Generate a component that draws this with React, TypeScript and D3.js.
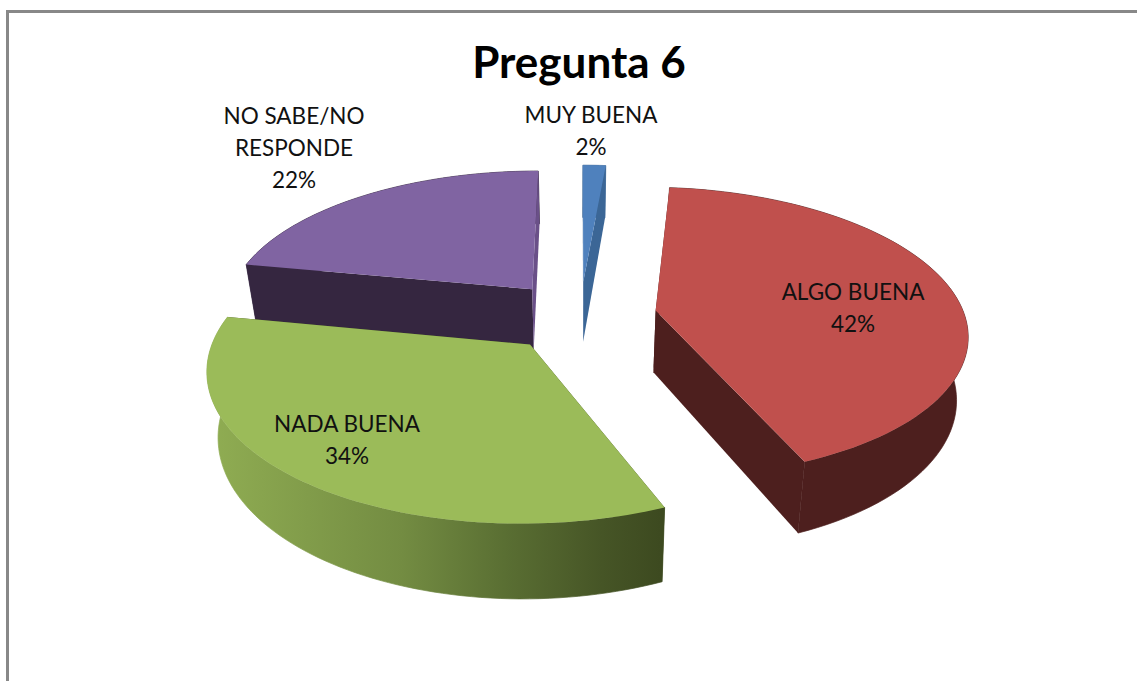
import React from "react";
import * as d3 from "d3";

const categories = ["MUY BUENA", "ALGO BUENA", "NADA BUENA", "NO SABE/NO RESPONDE"];
const values = [1.4, 42.3, 34.3, 22];
const topColors = ["#4f81bd", "#c0504d", "#9bbb59", "#8064a2"];
const wallColors = ["#3b6696", "#4d1f1e", "#3c4a20", "#352640"];
const endWallColors = ["#3b6696", "#4d1f1e", "#3c4a20", "#6a5088"];
const labelLines = [["MUY BUENA", "2%"], ["ALGO BUENA", "42%"], ["NADA BUENA", "34%"], ["NO SABE/NO", "RESPONDE", "22%"]];
const labelPos: [number, number][] = [[591, 115], [853, 292], [347, 424], [294, 116]];

const W = 1137, H = 681;
const axisX = 580, radius = 309, explode = 77, kPersp = 0.00048, camH = 965, horizon = -649, depth = 62, taper = 0.03;

type P = [number, number];
function project(X: number, V: number, h: number): P {
  const s = 1 / (1 + kPersp * V);
  return [axisX + X * s * (1 - (taper * h) / depth), horizon + camH * s + h * s];
}
const line = d3.line<P>();
const arcs = d3.pie<number>().sort(null)(values);

function slice(a: d3.PieArcDatum<number>) {
  const mid = (a.startAngle + a.endAngle) / 2;
  const ox = explode * Math.sin(mid), ov = explode * Math.cos(mid);
  const rim = (t: number): [number, number] => [ox + radius * Math.sin(t), ov + radius * Math.cos(t)];
  const n = 80;
  const ts = d3.range(n + 1).map((i) => a.startAngle + ((a.endAngle - a.startAngle) * i) / n);
  const rimTop = ts.map((t) => { const [x, v] = rim(t); return project(x, v, 0); });
  const rimBot = ts.map((t) => { const [x, v] = rim(t); return project(x, v, depth); });
  const apexT = project(ox, ov, 0), apexB = project(ox, ov, depth);
  const wall = (p: P, q: P, r: P, u: P) => line([p, q, r, u]) + "Z";
  const f = rimTop.length - 1;
  return {
    top: line([apexT, ...rimTop]) + "Z",
    rim: line([...rimTop, ...rimBot.slice().reverse()]) + "Z",
    startWall: wall(apexT, rimTop[0], rimBot[0], apexB),
    endWall: wall(apexT, rimTop[f], rimBot[f], apexB),
  };
}

const slices = arcs.map(slice);
const drawOrder = [3, 0, 1, 2];
const backFacing = [true, false, false, true];

export default function App() {
  return (
    <svg width={W} height={H} style={{ position: "absolute", left: 0, top: 0, background: "#fff" }}>
      <defs>
        <linearGradient id="greenRim" gradientUnits="userSpaceOnUse" x1={215} x2={660} y1={0} y2={0}>
          <stop offset="0" stopColor="#8fac52" />
          <stop offset="0.42" stopColor="#738c42" />
          <stop offset="0.65" stopColor="#5a6f33" />
          <stop offset="0.87" stopColor="#465526" />
          <stop offset="1" stopColor="#3d4a20" />
        </linearGradient>
      </defs>
      <path d={`M7.5,${H}V11.5H${W}`} fill="none" stroke="#888888" strokeWidth={3} />
      {drawOrder.map((i) => {
        const s = slices[i];
        const wallFill = i === 2 ? "url(#greenRim)" : wallColors[i];
        const rimEl = <path d={s.rim} fill={wallFill} stroke={wallFill} strokeWidth={0.7} />;
        return (
          <g key={categories[i]}>
            {backFacing[i] && rimEl}
            <path d={s.startWall} fill={wallColors[i]} />
            <path d={s.endWall} fill={endWallColors[i]} />
            {!backFacing[i] && rimEl}
            <path d={s.top} fill={topColors[i]} />
          </g>
        );
      })}
      <text x={579} y={78} textAnchor="middle" fontFamily="Lato, 'Open Sans', sans-serif" fontWeight={700} fontSize={44} fill="#000">Pregunta 6</text>
      {labelLines.map((lines, i) => (
        <text key={i} textAnchor="middle" fontFamily="Lato, 'Open Sans', sans-serif" fontSize={22.5} fill="#111">
          {lines.map((l, j) => (
            <tspan key={j} x={labelPos[i][0]} y={labelPos[i][1] + 7.5 + j * 32}>{l}</tspan>
          ))}
        </text>
      ))}
    </svg>
  );
}
